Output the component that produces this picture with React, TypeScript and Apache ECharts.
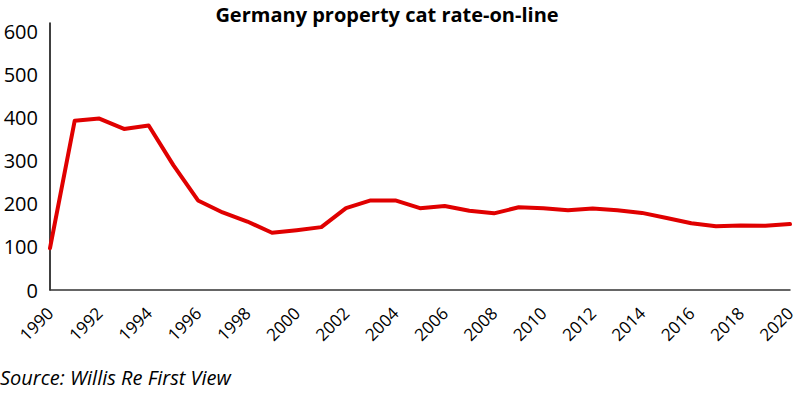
import React, { useEffect, useRef } from "react";
import * as echarts from "echarts";

const years: string[] = [
  "1990","1991","1992","1993","1994","1995","1996","1997","1998","1999",
  "2000","2001","2002","2003","2004","2005","2006","2007","2008","2009",
  "2010","2011","2012","2013","2014","2015","2016","2017","2018","2019","2020",
];
const rateOnLine: number[] = [
  97, 393, 398, 374, 382, 290, 208, 180, 159, 133,
  139, 146, 190, 208, 208, 190, 195, 184, 178, 192,
  190, 185, 189, 185, 179, 167, 155, 148, 150, 149, 153,
];
const title = "Germany property cat rate-on-line";
const source = "Source: Willis Re First View";

export default function App() {
  const ref = useRef<HTMLDivElement>(null);
  useEffect(() => {
    if (!ref.current) return;
    const chart = echarts.init(ref.current, null, { renderer: "svg" });
    const font = "'Open Sans', sans-serif";
    chart.setOption({
      animation: false,
      backgroundColor: "#ffffff",
      title: {
        text: title,
        left: 382,
        textAlign: "center",
        top: -1,
        textStyle: { fontFamily: font, fontWeight: "bold", fontSize: 20, color: "#000" },
      },
      graphic: [
        {
          type: "text",
          left: 0,
          top: 367,
          style: { text: source, font: `italic 20px ${font}`, fill: "#000" },
        },
      ],
      grid: { left: 50, right: 10, top: 23, bottom: 103, containLabel: false },
      xAxis: {
        type: "category",
        data: years,
        boundaryGap: false,
        axisLine: { lineStyle: { color: "#333", width: 1.5 } },
        axisTick: { show: false },
        axisLabel: {
          interval: 1,
          rotate: 45,
          margin: 20,
          fontFamily: font,
          fontSize: 17,
          color: "#000",
        },
        splitLine: { show: false },
      },
      yAxis: {
        type: "value",
        min: 0,
        max: 620,
        interval: 100,
        axisLine: { show: true, lineStyle: { color: "#000", width: 1.5 } },
        axisTick: { show: false },
        splitLine: { show: false },
        axisLabel: {
          showMaxLabel: false,
          margin: 12,
          fontFamily: font,
          fontSize: 20,
          color: "#000",
          formatter: (v: number) => (v % 100 === 0 ? String(v) : ""),
        },
      },
      series: [
        {
          type: "line",
          data: rateOnLine,
          symbol: "none",
          lineStyle: { color: "#e00000", width: 4, join: "round", cap: "round" },
        },
      ],
    });
    return () => chart.dispose();
  }, []);
  return <div ref={ref} style={{ width: 800, height: 393, position: "absolute", left: 0, top: 0 }} />;
}
